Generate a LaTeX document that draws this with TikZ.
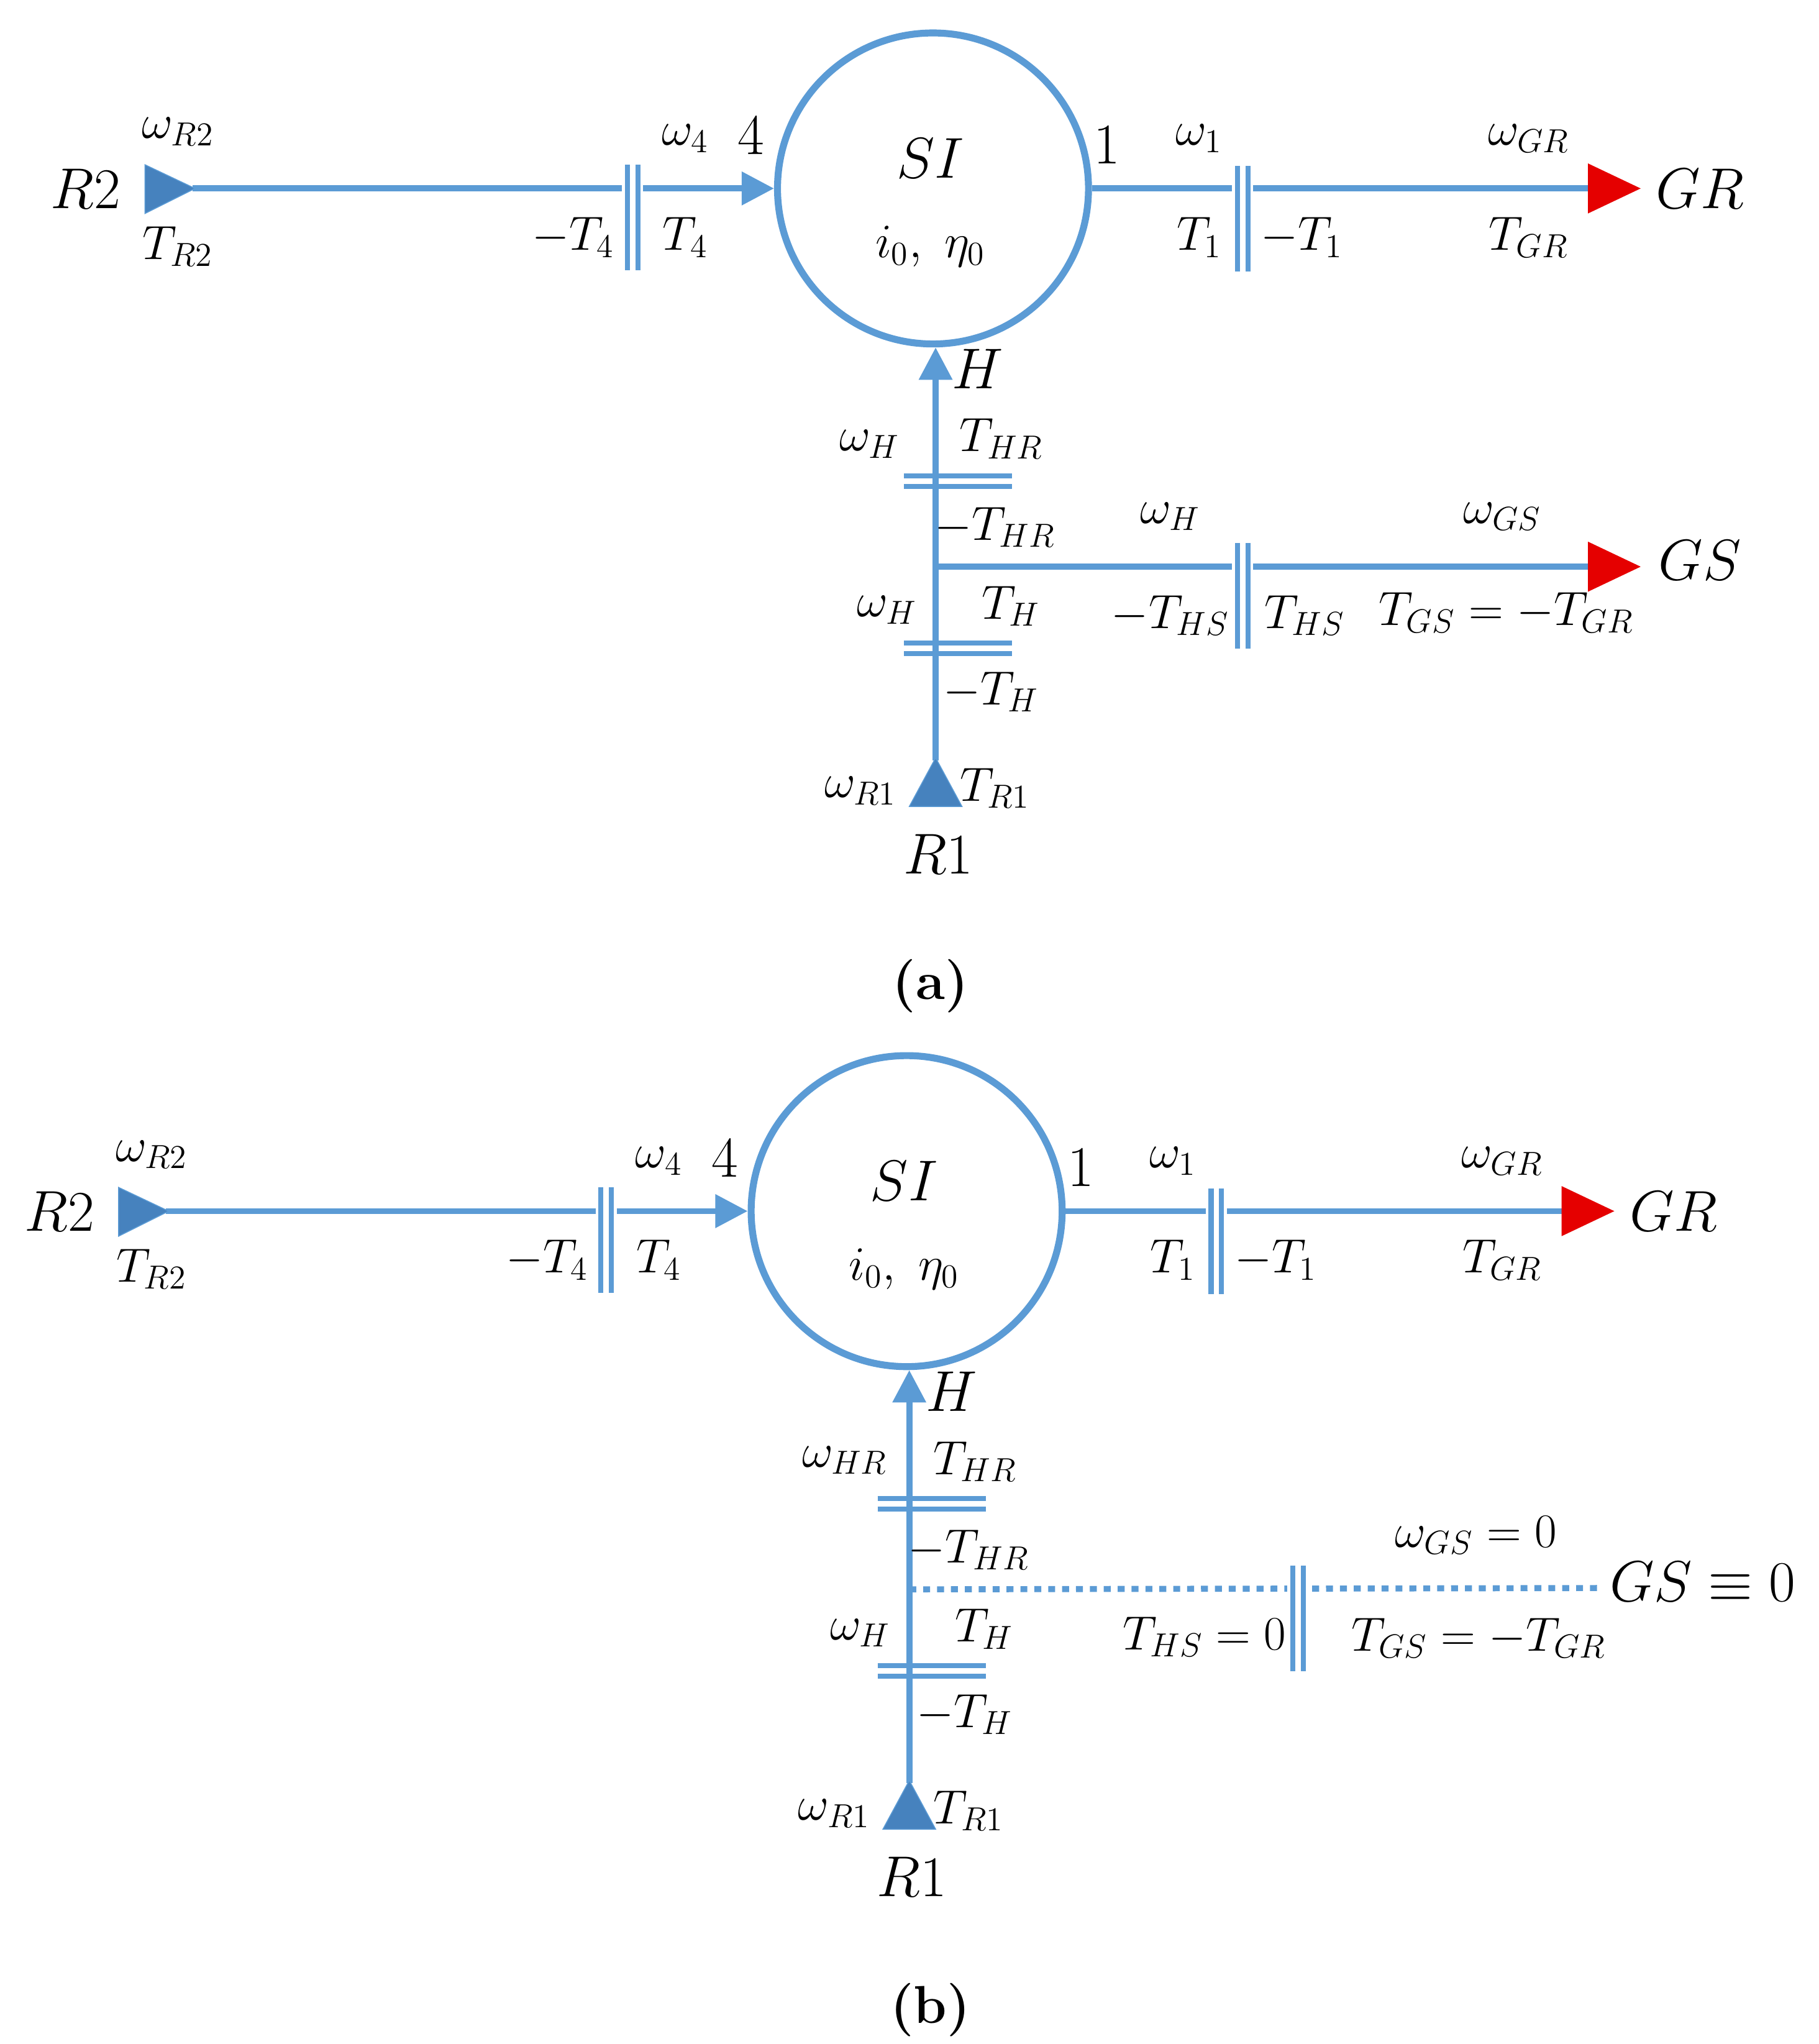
\documentclass[tikz,border=0pt]{standalone}
\usepackage{amssymb}
\usetikzlibrary{arrows.meta}
\definecolor{bl}{RGB}{91,155,213}
\definecolor{tri}{RGB}{70,130,190}
\tikzset{
 ln/.style={bl,line width=2.6pt},
 dot/.style={bl,line width=2.6pt,dash pattern=on 3pt off 3pt},
 arr/.style={ln,-{Triangle[length=14pt,width=14pt]}},
 lb/.style={font=\fontsize{21}{25}\selectfont,inner sep=1pt},
 big/.style={font=\fontsize{25}{29}\selectfont,inner sep=1pt},
 cl/.style={bl,line width=2.2pt},
}
\newcommand{\clv}[3]{\draw[cl] (#1-4,#2-#3) -- (#1-4,#2+#3); \draw[cl] (#1+4,#2-#3) -- (#1+4,#2+#3);}
\begin{document}
\begin{tikzpicture}[x=0.02cm,y=-0.02cm]
\useasboundingbox (0,0) rectangle (1380,1551);
\foreach \p/\dx/\dy in {a/0/0,b/-20/776}{
\begin{scope}[shift={(\dx*0.02cm,-\dy*0.02cm)}]
\node[circle,draw=bl,line width=3pt,minimum size=236*0.02cm,inner sep=0] (SI\p) at (708,143) {};
\coordinate (R2\p) at (146,143);
\coordinate (G\p) at (1205,143);
\coordinate (R1\p) at (710,577);
\coordinate (B\p) at (710,430);
\draw[arr] (R2\p) -- (SI\p.west);
\draw[ln] (SI\p.east) -- (G\p);
\draw[arr] (R1\p) -- (R1\p |- SI\p.south);
\fill[tri,draw=bl] (110,125) -- (148,143) -- (110,162) -- cycle;
\fill[red!90!black] (1205,124) -- (1245,143) -- (1205,162) -- cycle;
\fill[tri,draw=bl] (690,612) -- (710,575) -- (730,612) -- cycle;
\fill[white] (472,130) rectangle (488,202);
\clv{480}{165}{40}
\fill[white] (935,130) rectangle (951,202);
\clv{943}{166}{40}
\draw[cl] (686,361) -- (768,361);
\draw[cl] (686,369) -- (768,369);
\draw[cl] (686,488) -- (768,488);
\draw[cl] (686,496) -- (768,496);
\node[big] at (65,143) {$R2$};
\node[lb] at (135,100) {$\omega_{R2}$};
\node[lb] at (135,187) {$T_{R2}$};
\node[lb] at (435,180) {$-T_4$};
\node[lb] at (520,180) {$T_4$};
\node[lb] at (520,105) {$\omega_4$};
\node[big] at (570,103) {$4$};
\node[big] at (706,120) {$SI$};
\node[lb] at (706,187) {$i_0,\ \eta_0$};
\node[big] at (840,110) {$1$};
\node[lb] at (910,105) {$\omega_1$};
\node[lb] at (910,180) {$T_1$};
\node[lb] at (988,180) {$-T_1$};
\node[lb] at (1160,105) {$\omega_{GR}$};
\node[lb] at (1160,180) {$T_{GR}$};
\node[big] at (1290,143) {$GR$};
\node[big] at (742,280) {$H$};
\node[lb] at (760,333) {$T_{HR}$};
\node[lb] at (755,400) {$-T_{HR}$};
\node[lb] at (673,463) {$\omega_H$};
\node[lb] at (767,460) {$T_H$};
\node[lb] at (752,525) {$-T_H$};
\node[lb] at (653,600) {$\omega_{R1}$};
\node[lb] at (755,598) {$T_{R1}$};
\node[big] at (712,648) {$R1$};
\end{scope}}
% panel a specific
\draw[ln] (Ba) -- (1205,430);
\fill[red!90!black] (1205,411) -- (1245,430) -- (1205,449) -- cycle;
\fill[white] (935,416) rectangle (951,444);
\clv{943}{452}{40}
\node[lb] at (660,337) {$\omega_H$};
\node[lb] at (888,392) {$\omega_H$};
\node[lb] at (1140,392) {$\omega_{GS}$};
\node[big] at (1290,425) {$GS$};
\node[lb] at (888,467) {$-T_{HS}$};
\node[lb] at (990,467) {$T_{HS}$};
\node[lb] at (1143,465) {$T_{GS}=-T_{GR}$};
\node[font=\fontsize{23}{27}\selectfont\bfseries] at (706,748) {(a)};
% panel b specific
\draw[dot] (Bb) -- (1212,1205);
\fill[white] (977,1195) rectangle (993,1215);
\clv{985}{1228}{40}
\node[lb] at (641,1108) {$\omega_{HR}$};
\node[lb] at (1120,1165) {$\omega_{GS}=0$};
\node[big] at (1292,1200) {$GS\equiv0$};
\node[lb] at (914,1242) {$T_{HS}=0$};
\node[lb] at (1122,1243) {$T_{GS}=-T_{GR}$};
\node[font=\fontsize{23}{27}\selectfont\bfseries] at (706,1525) {(b)};
\end{tikzpicture}
\end{document}
